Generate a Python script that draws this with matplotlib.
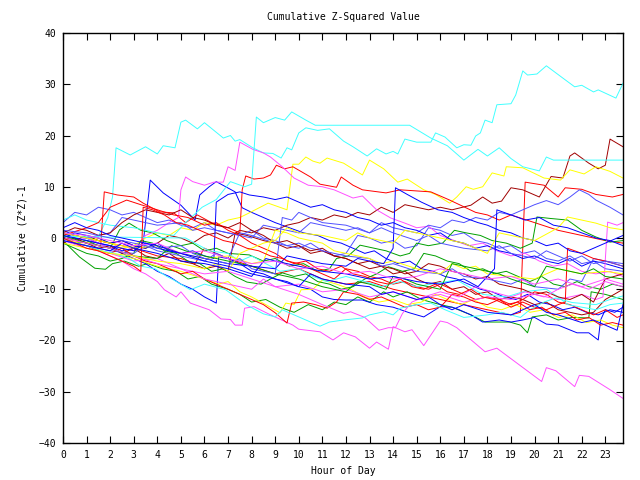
import matplotlib
matplotlib.use('Agg')
from matplotlib import pyplot as plt

# colours used by the plot
RED = '#ff0000'
DRED = '#a00000'
BLUE = '#0000ff'
MBLUE = '#5050ff'
GREEN = '#00a000'
MAG = '#ff50ff'
CYAN = '#40ffff'
YEL = '#ffff00'

hours = list(range(24))
yticks = [-40, -30, -20, -10, 0, 10, 20, 30, 40]

# (hour, cumulative value), one list per line
cyan_a = [(0, 0.5), (0.5, 0.2), (1, -0.5), (1.5, 0.3), (1.9, 4), (2.1, 8), (2.25, 17.6), (2.85, 16.2),
          (3.5, 17.8), (4.0, 16.4), (4.25, 18), (4.75, 17.6), (5.0, 22.6), (5.2, 23), (5.7, 21.3),
          (6.0, 22.5), (6.8, 19.5), (7.1, 20), (7.3, 18.9), (7.5, 19.2), (8.05, 17.6), (8.5, 16.6),
          (8.9, 16.5), (9.25, 15.6), (9.5, 17.6), (9.7, 17.2), (10.0, 20.5), (10.3, 21.5), (10.8, 21.0),
          (11.3, 21.3), (11.9, 18.9), (12.3, 17.8), (12.9, 16), (13.3, 17.4), (13.7, 16.4), (14.0, 16.9),
          (14.2, 16.4), (14.5, 19.3), (15.0, 18.7), (15.6, 18.7), (15.8, 20.5), (16.2, 19.7), (16.7, 17.6),
          (17.0, 18.2), (17.3, 18.1), (17.5, 19.9), (17.7, 20.5), (17.9, 23), (18.2, 22.5), (18.4, 26),
          (19.0, 26.2), (19.2, 27.9), (19.5, 32.6), (19.7, 31.8), (20.1, 32), (20.5, 33.6), (21.2, 31.2),
          (21.7, 29.5), (22.0, 29.8), (22.5, 28.5), (22.7, 28.9), (23.45, 27.3), (23.75, 30.2)]
cyan_b = [(0, 3.5), (0.5, 4.5), (1, 3.5), (2, 2.5), (3, 2), (4, 1), (4.7, 0.5), (5.2, 3), (5.9, 6),
          (6.5, 7.5), (7.1, 11), (7.7, 10), (8.0, 10.5), (8.2, 23.6), (8.5, 22.5), (9.0, 23.5), (9.4, 23),
          (9.7, 24.6), (10.3, 23), (10.7, 22), (14.7, 22), (15.6, 19.5), (16.3, 18), (17.0, 15.2),
          (17.6, 17.3), (18.0, 16), (18.5, 17.6), (19.0, 15.5), (19.5, 13.9), (20.2, 13.1), (20.5, 15.8),
          (20.8, 15.2), (23.75, 15.2)]
cyan_c = [(0, 0.3), (5.2, 0), (5.6, -1), (6.2, -2.5), (7, -3), (7.5, -4.5), (8, -3.5), (8.6, -5),
          (9.2, -6.5), (10, -6), (10.6, -7.5), (11.2, -8.5), (12, -7.5), (12.8, -8.5), (13.5, -9.5),
          (14.3, -8.5), (15, -9.5), (15.6, -9), (16.7, -8.2), (17.2, -9.5), (17.8, -11), (18.8, -11.5),
          (19.5, -10.5), (20.5, -10), (21, -11.5), (21.4, -13), (22, -13.5), (22.6, -14), (23.2, -13),
          (23.75, -12.7)]
cyan_d = [(0, 0), (0.5, -1), (1, -1.5), (1.6, -2.5), (2.2, -3), (2.8, -4), (3.3, -5.5), (3.9, -6),
          (4.4, -7.5), (4.7, -8.2), (5.4, -10.1), (6, -9), (6.9, -10.1), (7.8, -13.1), (8.5, -14.8),
          (9, -15.4), (9.3, -14), (10.5, -16.4), (10.9, -17.2), (11.3, -16.4), (11.9, -16), (12.7, -15.6),
          (13, -15), (13.6, -14.4), (14, -15), (14.3, -13.7), (15, -13), (15.6, -12.7), (16.2, -14),
          (17, -15.5), (18, -15), (18.6, -14.5), (19.4, -15.5), (19.8, -14), (20.4, -12.5), (20.9, -11.7),
          (21.6, -12.6), (22.6, -13), (23.2, -12), (23.75, -11.3)]

mag_a = [(0, 0), (0.5, -1), (1, -1.5), (1.5, -2.5), (2, -3.5), (2.5, -4.5), (3, -6), (3.5, -7), (4, -8.5),
         (4.3, -10.1), (4.8, -11.5), (5, -10.5), (5.4, -12.7), (6.2, -14), (6.7, -15.8), (7.1, -15.9),
         (7.3, -17), (7.6, -17), (7.7, -13.7), (8.1, -13.4), (8.8, -15), (9.75, -17), (10, -17.8),
         (10.9, -18.3), (11.45, -19.9), (11.9, -18.5), (12.4, -19.3), (13, -21.5), (13.3, -20.3),
         (13.8, -21.7), (14, -17.3), (14.5, -18.3), (14.8, -17.9), (15.3, -21), (16, -16.2), (16.3, -16.5),
         (16.7, -17.5), (17.9, -22.2), (18.4, -21.5), (20.3, -28), (20.5, -25.3), (20.9, -25.9),
         (21.7, -29), (21.9, -26.8), (22.3, -27), (23.2, -29.6), (23.75, -31.3)]
mag_b = [(0, 0.5), (0.5, -0.5), (1, 0), (1.5, -1), (2, -2), (2.5, -1), (3, -2.5), (3.5, 0.5), (4, 1.5),
         (4.5, 3), (4.9, 4), (5.0, 9.4), (5.2, 11.9), (5.5, 11), (6, 10.3), (6.4, 10.9), (6.8, 10.9),
         (7.0, 13.9), (7.3, 13.2), (7.5, 18.7), (8.05, 17.3), (8.5, 16.6), (8.8, 15.8), (9.3, 13.9),
         (9.8, 11.7), (10.4, 10.3), (11, 10), (11.5, 9.4), (12.3, 7.8), (12.7, 8.2), (13.3, 5.5),
         (13.9, 3.9), (14.5, 2.9), (15, 2), (15.5, 2.3), (16, 0.5), (16.6, -0.5), (17.2, -1.5), (17.8, -1),
         (18.4, -2.5), (19, -3.5), (19.6, -3), (20.2, -4.5), (20.8, -5.5), (21.4, -5), (22, -6.5),
         (22.6, -7), (23.2, -6.5), (23.75, -7.5)]
mag_c = [(0, -0.5), (1, -2), (2, -3), (3, -4.5), (4, -4), (5, -6), (6, -7), (7, -6.5), (8, -8), (9, -9.5),
         (10, -9), (11, -10.5), (12, -10), (13, -11.5), (14, -10.5), (15, -12), (16, -11), (17, -12.5),
         (18, -11.5), (19, -12), (20, -11), (21, -12), (22, -11), (22.6, -12), (22.9, -11.5), (23.1, 3.1),
         (23.5, 2.5), (23.75, 3)]
mag_d = [(0, 0), (1, -1), (2, -2), (3, -3.5), (4, -5), (5, -6), (6, -8), (7, -9), (8, -10), (8.5, -8),
         (9, -9.5), (10, -11), (11, -13), (11.9, -14.7), (12.2, -14.4), (12.8, -15.5), (13.4, -18),
         (13.8, -17.5), (14.1, -17.5), (14.4, -14.7), (14.8, -12.5), (15.3, -11.5), (16, -10.5),
         (16.8, -11.5), (17.5, -9.5), (18.2, -10.5), (19, -11.5), (19.6, -10.5), (20.4, -11.5), (21, -10),
         (21.6, -9), (22.3, -10), (23, -8.5), (23.75, -9.5)]
mag_e = [(0, 1), (1, 0.5), (2, -0.5), (3, -1.5), (4, -1), (5, -3), (6, -2.5), (7, -4), (8, -5), (9, -4.5),
         (10, -6), (11, -5.5), (12, -7), (13, -6.5), (14, -8), (15, -7.5), (16, -6), (17, -7), (18, -8),
         (19, -7.5), (20, -9), (21, -8), (22, -9.5), (23, -8), (23.75, -9)]

yel_a = [(0, 0), (0.5, -0.5), (1, -1), (1.5, 0), (2, -1), (2.5, -2), (3, -1.5), (3.5, 0), (4, 1), (4.5, 0.5),
         (5, 2), (5.5, 1.5), (6, 3), (6.5, 2.5), (7, 3.5), (7.5, 4), (7.9, 4.9), (8.7, 6.8), (9.5, 5.5),
         (9.75, 14.4), (10.0, 14.4), (10.3, 15.8), (10.6, 15), (10.9, 14.6), (11.2, 15.6), (11.9, 14.6),
         (12.7, 12.3), (13, 15.2), (13.6, 13.5), (14.2, 10.9), (14.6, 11.5), (15.3, 9.4), (15.8, 8.5),
         (16.4, 6.8), (16.7, 8), (17.1, 10), (17.4, 9.5), (17.8, 10), (18.2, 12.7), (18.7, 12.1),
         (18.8, 13.9), (19.5, 13.7), (20.4, 11.7), (21.1, 11.3), (21.5, 13.3), (22.1, 12.5), (22.6, 13.9),
         (23.2, 13), (23.75, 11.7)]
yel_b = [(0, 0), (1, -1.5), (2, -3), (3, -4), (4, -5.5), (5, -6.5), (6, -8), (6.6, -9), (7, -8.5),
         (7.5, -10.5), (8, -11.5), (8.6, -13), (9.2, -14.6), (9.45, -12.7), (9.8, -13), (10.1, -10.1),
         (10.6, -10), (11, -8.2), (11.6, -9), (12.2, -10), (12.8, -11.5), (13.4, -12.5), (14, -12),
         (14.6, -13), (15.2, -12.5), (15.8, -11), (16.3, -12), (16.9, -13), (17.4, -12), (18, -13.5),
         (18.6, -14), (19.2, -13), (19.8, -14.5), (20.4, -14), (21, -15.5), (21.6, -15), (22.2, -16.5),
         (22.8, -16), (23.3, -17), (23.75, -17.5)]
yel_c = [(0, 1), (1, 0), (2, -1), (3, -2), (4, -1.5), (5, -3), (6, -4), (7, -3.5), (8, -5), (8.5, -4.5),
         (9, 1.5), (9.5, 1), (10, 0), (11, -1), (11.5, -2.5), (12, -3), (13, -4), (13.5, -5), (14, -4.5),
         (15, -6), (16, -7), (16.5, -5), (17, -6), (17.5, -5.5), (18, -7), (19, -7.5), (20, -8), (21, -6),
         (22, -7), (23, -6.5), (23.75, -7)]
yel_d = [(0, -1), (1, -2), (2, -3), (3, -3.5), (4, -4.5), (5, -5), (6, -6), (6.5, -5), (7, -6.5), (7.5, -3),
         (8, -2), (8.5, -1), (9, -0.5), (9.5, 2), (10, 1), (11, 0.5), (12, -0.5), (12.5, 1), (13, 0),
         (14, -1), (14.5, 1.5), (15, 1), (16, 0), (17, -1), (17.5, -2), (18, -3), (18.5, 1), (19, 0.5),
         (20, -0.5), (21, 2), (21.4, 4.1), (22, 3.5), (22.6, 2.9), (23.2, 2), (23.75, 1.6)]

grn_a = [(0, -0.5), (0.7, -3.7), (1.35, -5.9), (1.8, -6.1), (2.1, -5), (2.6, -4.5), (3.2, -5.5), (3.6, -5),
         (4.2, -6), (4.8, -6.5), (5.3, -8), (5.8, -7.5), (6.3, -9), (7, -10), (7.5, -11), (8, -12.5),
         (8.6, -12), (9.2, -13.5), (9.8, -14.5), (10.4, -13), (11, -14), (11.5, -12.5), (12, -13),
         (12.5, -11.5), (13, -12.5), (13.6, -10.5), (14, -11.5), (14.6, -10.5), (15.2, -12), (16, -13),
         (16.5, -13.5), (17.3, -15), (17.9, -16.4), (18.95, -16.4), (19.4, -17), (19.7, -18.5),
         (19.9, -15.4), (20.5, -15), (21, -16), (21.6, -15.5), (22.3, -15.6), (22.4, -10.5), (23, -11),
         (23.75, -12)]
grn_b = [(0, 0), (0.5, -1), (1, -0.5), (1.5, -1.5), (2, -2), (2.4, 1.6), (2.8, 2.9), (3.3, 1.5), (3.8, 1),
         (4.4, -0.5), (5, -1.5), (5.5, -1), (6, -2.5), (6.5, -2), (7, -3), (7.9, -3.3), (8.5, -4.5), (9, -4),
         (9.6, -5.5), (10.2, -5), (10.8, -6.5), (11.3, -6), (11.6, -4), (12.1, -3.5), (12.6, -1.4),
         (13.2, -2), (13.7, -2.5), (14.3, -3.5), (14.7, -3), (15, -1), (15.5, -1.5), (16.1, -1), (16.6, 1.5),
         (17.1, 1), (17.7, 0.5), (18.2, -0.5), (18.8, -1), (19.4, -2), (19.9, -1), (20.1, 4.1), (20.7, 3.8),
         (21.4, 3.5), (22, 1.5), (22.6, 0.2), (23.2, -0.8), (23.75, -0.5)]
grn_c = [(0, -1), (0.5, -2), (1, -3), (1.5, -3.5), (2, -4.5), (2.5, -4), (3, -3), (3.3, -0.5), (3.8, -1),
         (4.3, -2.5), (4.8, -3), (5.3, -4.5), (5.8, -5), (6.3, -6.5), (6.8, -6), (7.3, -7.5), (7.8, -8.6),
         (8.4, -9), (8.8, -8), (9.3, -6.8), (9.8, -7.5), (10.3, -7), (10.8, -8.5), (11.3, -9), (11.8, -10),
         (12.3, -9.5), (12.8, -8), (13.3, -7), (13.8, -5.6), (14.4, -6.5), (14.9, -6), (15.3, -3),
         (15.8, -3.5), (16.3, -4.5), (16.8, -5), (17.3, -6.5), (17.8, -6), (18.3, -7), (18.8, -6.5),
         (19.3, -7.5), (19.8, -8.5), (20.3, -7.5), (20.8, -9), (21.3, -9.5), (21.8, -8.5), (22.3, -9.5),
         (22.8, -10), (23.3, -9), (23.75, -9.5)]
grn_d = [(0, 0.5), (1, -1), (2, -2), (3, -3.5), (4, -4), (4.6, -1.5), (5.2, -2.5), (6, -3.5), (7, -4.5),
         (8, -5.5), (9, -7), (10, -8), (11, -9.5), (12, -10.5), (12.5, -8.5), (13, -9), (13.7, -10),
         (14, -7.5), (14.5, -8), (15, -9), (16, -10), (16.5, -5), (17, -5.5), (18, -6.5), (18.5, -7),
         (19, -8), (20, -9.5), (20.5, -5.5), (21, -6), (22, -7), (22.5, -6), (23, -7.5), (23.75, -8)]

blu_a = [(0, 1), (0.5, 0), (1, -0.5), (1.5, -1), (2, -1.5), (2.5, -2.5), (3, -2), (3.4, -1), (3.7, 11.3),
         (4.25, 8.8), (5, 6.4), (5.6, 3.5), (5.8, 8.4), (6.2, 10), (6.5, 11), (6.9, 10), (7.3, 9), (7.6, 5.9),
         (8, 5), (8.5, 4), (9, 3), (9.6, 2), (10.2, 1), (10.8, 0.5), (11.3, -0.5), (11.8, -1), (12.3, -2),
         (12.8, -3), (13.2, -2.5), (13.7, -4), (14.2, -5), (14.7, -4.5), (15.2, -6), (15.7, -6.5),
         (16.2, -7.5), (16.7, -8), (17.2, -9), (17.7, -10), (18.2, -10.5), (18.7, -11.5), (19.2, -12),
         (19.7, -11), (20.2, -12.5), (20.7, -13), (21.2, -14), (21.7, -13.5), (22.2, -14.5), (22.7, -15),
         (23.2, -14), (23.75, -14.5)]
blu_b = [(0, 1.5), (0.5, 0.5), (1, 0), (1.5, -1), (2, -2), (2.5, -3), (3, -4), (3.5, -5), (4, -6.5),
         (4.5, -7.5), (5, -9), (5.5, -10), (6, -11.5), (6.5, -12.7), (6.6, -3.7), (7, -4), (7.5, -5),
         (8, -6.5), (8.5, -7), (9, -8), (9.5, -8.5), (10, -9.5), (10.5, -10), (11, -11.5), (11.5, -12),
         (12, -12.1), (12.7, -12.1), (13.3, -13), (14, -13.5), (14.7, -14.6), (15.3, -15.4), (16, -13.4),
         (16.5, -13.5), (16.8, -14), (17.3, -15), (17.8, -16.4), (18.5, -16), (19, -16.4), (19.5, -16),
         (20, -15.5), (20.5, -16.8), (21, -17), (21.8, -18.5), (22.3, -18.5), (22.7, -19.9), (22.8, -16),
         (23, -14), (23.4, -14.5), (23.75, -13.5)]
blu_c = [(0, 0), (0.5, 1), (1, 0.5), (1.5, 0), (2, -1), (2.5, -0.5), (3, -1.5), (3.5, -2), (4, -1),
         (4.5, -2.5), (5, -3), (5.5, -2.5), (6, -3.5), (6.4, -4), (6.5, 7), (7, 8.5), (7.5, 9), (7.9, 8.4),
         (8.5, 8), (9, 7.5), (9.5, 8), (10, 7), (10.5, 6), (11, 6.5), (11.5, 5.5), (12, 5), (12.5, 4),
         (13, 3.5), (13.5, 2.5), (14, 3), (14.5, 2), (15, 1.5), (15.5, 0.5), (16, 1), (16.5, -0.5), (17, -1),
         (17.5, -2), (18, -1.5), (18.5, -2.5), (19, -3), (19.5, -4), (20, -3.5), (20.5, -4.5), (21, -5),
         (21.5, -4), (22, -5.5), (22.5, -4.5), (23, -5), (23.75, -6)]
blu_d = [(0, 0.5), (1, -0.5), (2, -1.5), (3, -2.5), (3.5, -1), (4, -2), (5, -3), (6, -4), (7, -5), (8, -5.5),
         (9, -6), (9.5, -3.5), (10, -4), (11, -5), (12, -5.5), (12.5, -4), (13, -4.5), (13.6, -5), (14, -2),
         (14.1, 9.8), (14.6, 8.5), (15.2, 7), (15.9, 5.5), (16.5, 5), (17, 4), (17.6, 3), (18, 2.5),
         (18.5, 1.5), (19, 1), (19.5, 0), (20, -0.5), (20.5, -1.5), (21, -1), (21.5, -2.5), (22, -3),
         (22.5, -2), (23, -1), (23.75, 0.5)]
blu_e = [(0, -0.5), (1, -1.5), (2, -2.5), (2.5, -1), (3, -2), (4, -3), (5, -4.5), (6, -5), (7, -6),
         (8, -7.5), (8.6, -4), (9, -4.5), (10, -5.5), (11, -6.5), (12, -7), (13, -8), (14, -7.5), (15, -8.5),
         (16, -9), (17, -8), (17.6, -9.5), (18.3, -6), (18.4, 5.5), (19, 4.5), (19.6, 3.5), (20.2, 4),
         (20.8, 2.5), (21.4, 2), (22, 1), (22.6, 0), (23.2, -0.5), (23.75, -1.5)]
blu_f = [(0, 2), (0.5, 3), (1, 2), (1.5, 1.5), (2, 0.5), (3, -0.5), (4, -1.5), (5, -3), (6, -4.5),
         (7, -5.5), (8, -7), (9, -8), (10, -9.5), (10.5, -7), (11, -8), (12, -9), (13, -9.5), (13.5, -11),
         (14, -10.5), (15, -12), (15.5, -11.5), (16, -13), (16.5, -14), (17, -13), (18, -14.5), (19, -15),
         (19.5, -14), (20, -13), (20.5, -14.5), (21, -15), (22, -16.5), (22.5, -16), (23, -17),
         (23.5, -18), (23.75, -13)]

mb_a = [(0, 3), (0.5, 5), (1, 4.5), (1.5, 6), (2, 5.5), (2.5, 4.5), (3, 5), (3.5, 4), (4, 3), (4.5, 3.5),
        (5, 2.5), (5.5, 2), (6, 3), (6.5, 1.5), (7, 1), (7.5, 0.5), (8, 1.5), (8.5, 0), (9, -0.5),
        (9.5, -1.5), (10, -1), (10.5, -2), (11, -2.5), (11.5, -3.5), (12, -3), (12.5, 0.5), (13, 0),
        (13.5, -1), (14, -0.5), (14.5, -2), (15, -1.5), (15.5, 2), (16, 1.5), (16.5, 0.5), (17, 1),
        (17.5, -0.5), (18, -1), (18.5, -2), (19, -1.5), (19.5, -3), (20, -2.5), (20.5, -4), (21, -4.5),
        (21.5, -3.5), (22, -5), (22.5, -4.5), (23, -6), (23.75, -6.5)]
mb_b = [(0, 1), (1, 0), (2, 1), (2.5, 4), (3, 3.5), (4, 2.5), (5, 3), (5.5, 1.5), (6, 2), (7, 1), (8, 0),
        (8.5, 2.5), (9, 2), (10, 1), (10.5, 3), (11, 2.5), (12, 1.5), (12.5, 2), (13, 1), (13.5, 3), (14, 2),
        (15, 1), (15.5, 2.5), (16, 2), (16.5, 3.5), (17, 3), (17.5, 4), (18, 3.5), (18.5, 5), (19, 4.5),
        (19.5, 5.5), (20, 6.5), (20.5, 7.3), (21, 6.5), (21.5, 8), (21.9, 9.4), (22.3, 8.5), (22.6, 7.4),
        (23.2, 6), (23.75, 4.5)]
mb_c = [(0, -0.5), (1, -1.5), (2, -2.5), (3, -3), (3.5, -1.5), (4, -2.5), (5, -3.5), (6, -4.5), (6.5, -3),
        (7, -4), (7.5, 1), (8, 0.5), (9, -1), (10, -2), (10.5, -1), (11, -2.5), (12, -3.5), (13, -4),
        (13.5, -5.5), (14, -5), (15, -6.5), (16, -7), (16.5, -6), (17, -7.5), (18, -8), (19, -9), (19.5, -8),
        (20, -9.5), (21, -10), (21.5, -8), (22, -8.5), (22.5, -4), (23, -4.5), (23.75, -5)]
mb_d = [(0, 1.5), (1, 1), (2, 0), (3, -1), (4, -2), (5, -1.5), (5.5, -3), (6, -4), (7, -5), (7.5, -4),
        (8, -6), (9, -7), (9.3, 4), (9.7, 3.5), (10, 5), (10.5, 4), (11, 3), (12, 2.5), (13, 1), (13.5, 2),
        (14, 1), (15, -0.5), (15.5, 0.5), (16, -1), (17, -2), (18, -2.5), (18.5, -1.5), (19, -3), (20, -4),
        (20.5, -2.5), (21, -3.5), (21.5, -4.5), (22, -3.5), (22.5, -5), (23, -4.5), (23.75, -5.5)]

dr_a = [(0, 0), (0.5, -0.5), (1, 0.5), (1.5, -0.5), (2, -1), (2.5, -0.5), (3, -1.5), (3.5, -2), (4, -1),
        (4.5, 0.5), (5, 0), (5.5, -1), (6, 0.5), (6.5, 1), (7, 0), (7.5, 1.5), (8, 1), (8.5, 2), (9, 1.5),
        (9.5, 2.5), (10, 3), (10.5, 4), (11, 3.5), (11.5, 4.5), (12, 4), (12.5, 5), (13, 4.5), (13.5, 6),
        (14, 5), (14.5, 6.5), (15, 6), (15.5, 5.5), (16, 6), (16.5, 5.5), (17.3, 6.4), (17.8, 8), (18.2, 6.8),
        (18.6, 7.2), (19, 9.8), (19.5, 9.4), (20.2, 8), (20.7, 12), (21.2, 11.7), (21.5, 16), (21.7, 16.6),
        (22.3, 14.6), (22.7, 13.5), (23, 14.2), (23.2, 19.3), (23.75, 17.8)]
dr_b = [(0, -1), (0.5, 0), (1, -1), (1.5, -2), (2, -1.5), (2.5, -3), (3, -2), (3.5, -3.5), (4, -4), (4.5, -3),
        (5, -4.5), (5.5, -5), (6, -6), (6.5, -5.5), (7, -6.5), (7.3, 1), (7.8, 0.5), (8.5, -0.5), (9, -1),
        (9.5, -2), (10, -1.5), (10.5, -3), (11, -2.5), (11.5, -3.5), (12, -4), (12.5, -5), (13, -6),
        (13.5, -5.5), (14, -7), (14.5, -6.5), (15, -8), (15.5, -9), (16, -8.5), (16.5, -10), (17, -9.5),
        (17.5, -11), (18, -10.5), (18.5, -12), (19, -11.5), (19.5, -12), (20, -13), (20.5, -12.5), (21, -14),
        (21.5, -14.5), (22, -15), (22.5, -14.5), (23, -12), (23.75, -10)]
dr_c = [(0, 1), (0.5, 2), (1, 1.5), (1.5, 0.5), (2, 1), (2.5, 3), (3, 4.5), (3.5, 5.5), (4, 5), (4.5, 4.5),
        (5, 5.5), (5.5, 4), (6, 3.5), (6.5, 2.5), (7, 2), (7.5, 3), (8, 1.5), (8.5, 0.5), (9, -1),
        (9.5, -0.5), (10, -1.5), (10.5, -2.5), (11, -2), (11.5, -3.5), (12, -4), (12.5, -5), (13, -4.5),
        (13.5, -5.5), (14, -6), (14.5, -7), (15, -6.5), (15.5, -5), (16, -5.5), (16.5, -6.5), (17, -7),
        (17.5, -8), (18, -7.5), (18.5, -9), (19, -9.5), (19.5, -10), (20, -11), (20.5, -10.5), (21, -11.5),
        (21.5, -12), (22, -11), (22.5, -12.5), (23, -8), (23.75, -7)]

red_a = [(0, 1), (1, 0), (2, -1), (3, -2), (4, -3.5), (5, -4), (5.6, -5), (6, -2), (7, -4), (8, -5.5),
         (9, -7), (10, -6), (11, -8), (12, -9), (13, -8.5), (14, -10), (15, -11), (16, -12), (17, -13),
         (18, -14), (19, -15), (19.4, -14.5), (19.6, 10.9), (20.4, 10.3), (21, 8), (21.3, 9.8), (22, 9.5),
         (22.6, 8.5), (23.3, 8), (23.75, 8.5)]
red_b = [(0, 0), (0.5, -0.5), (1, -1), (1.6, -1.5), (1.75, 9), (2.3, 8.4), (3, 8), (3.4, 6.8), (4.1, 5.1),
         (4.7, 4.9), (5.2, 3), (5.7, 4.5), (6.3, 3), (7, 2), (7.5, 1), (7.6, 9.4), (7.75, 12.1), (8.1, 11.5),
         (8.5, 11.7), (8.8, 12.3), (9.05, 14.2), (9.4, 13.5), (9.75, 13.9), (10.5, 11.9), (10.9, 10.5),
         (11.6, 9.9), (11.8, 11.9), (12.3, 10.3), (12.7, 9.4), (13.7, 8.8), (14.3, 9.4), (15.6, 9),
         (16.4, 7.4), (17.5, 5), (18, 4.5), (18.5, 3.5), (19, 4.5), (20, 3), (21, 1.5), (22, 0.5),
         (23, -0.5), (23.75, -1)]
red_c = [(0, 0.5), (1, 2), (1.5, 3), (2, 6), (2.7, 7.4), (3.3, 6.5), (4, 5.5), (4.7, 4.5), (5.3, 4), (6, 2.5),
         (6.5, 3), (7, 1.5), (7.5, 0.5), (8, -1), (8.5, -2), (9, -3), (9.5, -4.5), (10, -5), (10.5, -6),
         (11, -7), (11.5, -8), (12, -6), (12.5, -6.5), (13, -7.5), (13.5, -8), (14, -9), (14.5, -8.5),
         (15, -9.5), (15.5, -10), (16, -9), (16.5, -10), (17, -11), (17.5, -12), (18, -11.5), (18.5, -12),
         (19, -13), (19.5, -12), (20, -10.5), (20.5, -11), (21, -12.5), (21.5, -13), (22, -14), (22.5, -15),
         (23, -14), (23.5, -15.5), (23.75, -15)]
red_d = [(0, 0), (0.5, -1), (1, -1.5), (1.5, -2.5), (2, -3), (2.5, -2), (3, -3.5), (3.5, -4.5), (4, -5),
         (4.5, -6), (5, -7), (5.5, -6.5), (6, -8), (6.5, -9), (7, -10), (7.5, -11), (8, -12), (8.5, -13),
         (9, -14.6), (9.5, -16.6), (9.7, -12.7), (10.2, -12.5), (10.7, -13), (11.2, -13.7), (11.6, -12.5),
         (11.9, -10.5), (12.5, -11), (13, -12), (13.5, -11.5), (14, -12.5), (14.5, -13.5), (15, -13),
         (15.5, -14), (16, -13.5), (16.5, -11), (17, -11.5), (17.5, -12.5), (18, -13), (18.5, -12),
         (19, -13.5), (19.5, -12.5), (20, -13.5), (20.5, -14), (21, -13), (21.3, -12.5), (21.4, -2),
         (22, -3), (22.5, -4), (23, -4.5), (23.75, -5.5)]
red_e = [(0, 0), (0.5, -1), (1, -2), (1.5, -2.5), (2, -3.5), (2.5, -4.5), (3, -5.5), (3.3, -6.5), (3.4, 6),
         (3.8, 5.5), (4.3, 4.5), (4.8, 3), (5.3, 2.5), (5.8, 1.5), (6.3, 0.5), (6.8, -0.5), (7.3, -1),
         (7.8, -2), (8.3, -2.5), (8.8, -3.5), (9.3, -4), (9.8, -5), (10.3, -4.5), (10.8, -6), (11.3, -6.5),
         (11.8, -5.5), (12.3, -7), (12.8, -7.5), (13.3, -8.5), (13.8, -9), (14.3, -8), (14.8, -9.5),
         (15.3, -10), (15.8, -9), (16.3, -10.5), (16.8, -11), (17.3, -10), (17.8, -11.5), (18.3, -12),
         (18.8, -13), (19.3, -12.5), (19.8, -14), (20.3, -13.5), (20.8, -15), (21.3, -14.5), (21.8, -16),
         (22.3, -15.5), (22.8, -17), (23.3, -16.5), (23.75, -17)]

lines = [(red_a, RED), (grn_a, GREEN), (blu_a, BLUE), (mag_a, MAG), (cyan_a, CYAN), (dr_a, DRED),
         (mb_a, MBLUE), (yel_a, YEL),
         (red_b, RED), (grn_b, GREEN), (blu_b, BLUE), (mag_b, MAG), (cyan_b, CYAN), (dr_b, DRED),
         (mb_b, MBLUE), (yel_b, YEL),
         (red_c, RED), (grn_c, GREEN), (blu_c, BLUE), (mag_c, MAG), (cyan_c, CYAN), (dr_c, DRED),
         (mb_c, MBLUE), (yel_c, YEL),
         (red_d, RED), (grn_d, GREEN), (blu_d, BLUE), (mag_d, MAG), (cyan_d, CYAN),
         (mb_d, MBLUE), (yel_d, YEL),
         (red_e, RED), (blu_e, BLUE), (mag_e, MAG), (blu_f, BLUE)]

plt.rcParams['font.family'] = ['DejaVu Sans Mono']
plt.rcParams['font.size'] = 7

fig = plt.figure(figsize=(6.4, 4.8), dpi=100)
ax = fig.add_axes([63 / 640, 1 - 443 / 480, 560 / 640, 410 / 480])

for pts, col in lines:
    xs = [p[0] for p in pts]
    ys = [p[1] for p in pts]
    ax.plot(xs, ys, color=col, lw=0.7)

ax.set_xlim(0, 23.75)
ax.set_ylim(-40, 40)
ax.set_xticks(hours)
ax.set_yticks(yticks)
ax.tick_params(direction='in', length=5, width=0.8, top=True, right=True, pad=5)
for s in ax.spines.values():
    s.set_linewidth(1.0)

ax.set_title('Cumulative Z-Squared Value', fontsize=7, pad=9)
ax.set_xlabel('Hour of Day', fontsize=7, labelpad=4)
ax.set_ylabel('Cumulative (Z*Z)-1', fontsize=7, labelpad=8)

fig.savefig('out.png', dpi=100)
